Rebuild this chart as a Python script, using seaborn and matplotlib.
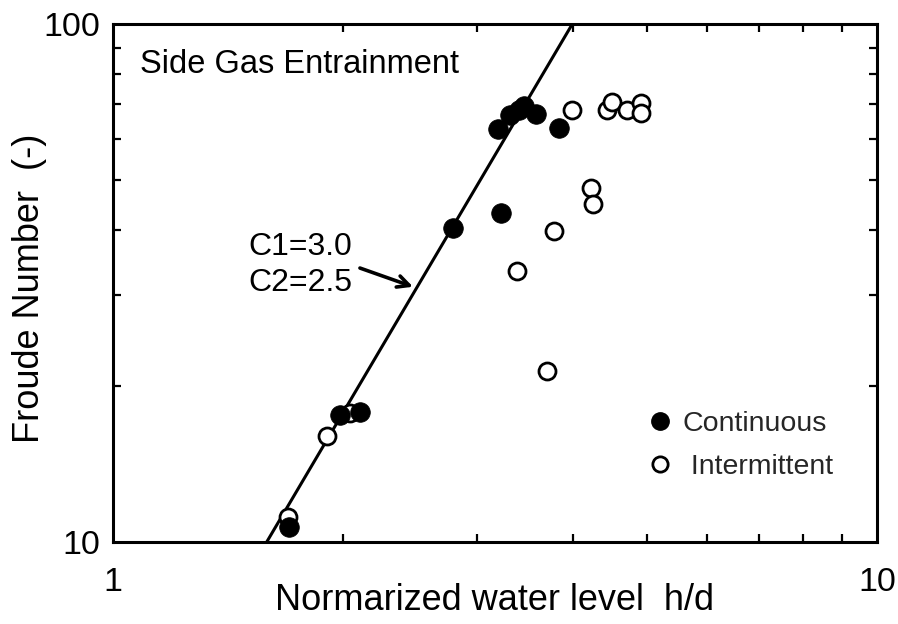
import numpy as np
import pandas as pd
import matplotlib
matplotlib.use("Agg")
import matplotlib.pyplot as plt
from matplotlib.lines import Line2D
import seaborn as sns

# Continuous entrainment (filled markers)
cont_hd = [1.700, 1.982, 2.105, 2.786, 3.220, 3.191, 3.308, 3.400, 3.451, 3.578, 3.836]
cont_fr = [10.69, 17.59, 17.83, 40.4, 43.2, 62.7, 66.7, 68.2, 69.5, 67.0, 63.0]

# Intermittent entrainment (open markers)
int_hd = [1.695, 1.906, 2.042, 3.380, 3.700, 3.778, 4.224, 4.249, 3.990, 4.433, 4.500, 4.708, 4.911, 4.911]
int_fr = [11.17, 16.02, 17.74, 33.4, 21.4, 39.8, 48.3, 44.9, 68.2, 68.2, 70.7, 68.2, 70.4, 67.3]

# Correlation line Fr = C * (h/d)^C2
line_coef = 3.14
line_exp = 2.5

sns.set_theme(style="white")
plt.rcParams["font.family"] = ["Liberation Sans", "DejaVu Sans"]

fig = plt.figure(figsize=(8.98, 6.24), dpi=100)
ax = fig.add_axes([0.1258, 0.1314, 0.8508, 0.8301])

hd_line = np.geomspace(1.0, 10.0, 400)
line_df = pd.DataFrame({"hd": hd_line, "fr": line_coef * hd_line ** line_exp})
line_df = line_df[(line_df.fr >= 9.5) & (line_df.fr <= 105)]
sns.lineplot(data=line_df, x="hd", y="fr", color="black", linewidth=2.2, ax=ax,
             estimator=None, sort=False)

cont_df = pd.DataFrame({"hd": cont_hd, "fr": cont_fr})
int_df = pd.DataFrame({"hd": int_hd, "fr": int_fr})
sns.scatterplot(data=int_df, x="hd", y="fr", marker="o", s=150, facecolor="white",
                edgecolor="black", linewidth=2.0, ax=ax, zorder=3)
sns.scatterplot(data=cont_df, x="hd", y="fr", marker="o", s=200, color="black",
                edgecolor="black", linewidth=0.5, ax=ax, zorder=4)

ax.set_xscale("log")
ax.set_yscale("log")
ax.set_xlim(1, 10)
ax.set_ylim(10, 100)

ax.set_xticks([1, 10])
ax.set_xticklabels(["1", "10"])
ax.set_yticks([10, 100])
ax.set_yticklabels(["10", "100"])
ax.xaxis.set_minor_locator(matplotlib.ticker.LogLocator(base=10, subs=np.arange(2, 10)))
ax.yaxis.set_minor_locator(matplotlib.ticker.LogLocator(base=10, subs=np.arange(2, 10)))
ax.xaxis.set_minor_formatter(matplotlib.ticker.NullFormatter())
ax.yaxis.set_minor_formatter(matplotlib.ticker.NullFormatter())

ax.tick_params(which="both", direction="in", top=True, right=True, bottom=True, left=True,
               color="black", width=1.6)
ax.tick_params(which="major", length=0, labelsize=24.5, labelcolor="black")
ax.tick_params(which="minor", length=6)
ax.tick_params(axis="x", which="major", pad=18)
ax.tick_params(axis="y", which="major", pad=9)

for sp in ax.spines.values():
    sp.set_visible(True)
    sp.set_color("black")
    sp.set_linewidth(2.2)

ax.set_xlabel("Normarized water level  h/d", fontsize=26, color="black", va="center")
ax.xaxis.set_label_coords(0.5, -0.112)
ax.set_ylabel("Froude Number  (-)", fontsize=26, color="black", va="center")
ax.yaxis.set_label_coords(-0.1086, 0.49)

ax.text(0.035, 0.921, "Side Gas Entrainment", transform=ax.transAxes, fontsize=23.5,
        color="black", ha="left", va="center")

ax.annotate("", xy=(2.47, 31.1), xytext=(2.105, 33.8),
            arrowprops=dict(arrowstyle="->,head_length=0.7,head_width=0.35",
                            color="black", lw=2.6, shrinkA=0, shrinkB=0))
ax.text(0.1767, 0.5695, "C1=3.0", transform=ax.transAxes, fontsize=23,
        color="black", ha="left", va="center")
ax.text(0.1767, 0.500, "C2=2.5", transform=ax.transAxes, fontsize=23,
        color="black", ha="left", va="center")

handles = [
    Line2D([], [], linestyle="none", marker="o", markersize=12.5, markerfacecolor="black",
           markeredgecolor="black"),
    Line2D([], [], linestyle="none", marker="o", markersize=11, markerfacecolor="white",
           markeredgecolor="black", markeredgewidth=2.0),
]
ax.legend(handles, ["Continuous", " Intermittent"], loc="upper left",
          bbox_to_anchor=(0.679, 0.281), frameon=False, fontsize=20.5,
          handletextpad=0.3, labelspacing=0.6, handlelength=1.0, borderpad=0)

fig.savefig("out.png", dpi=100, facecolor="white")
